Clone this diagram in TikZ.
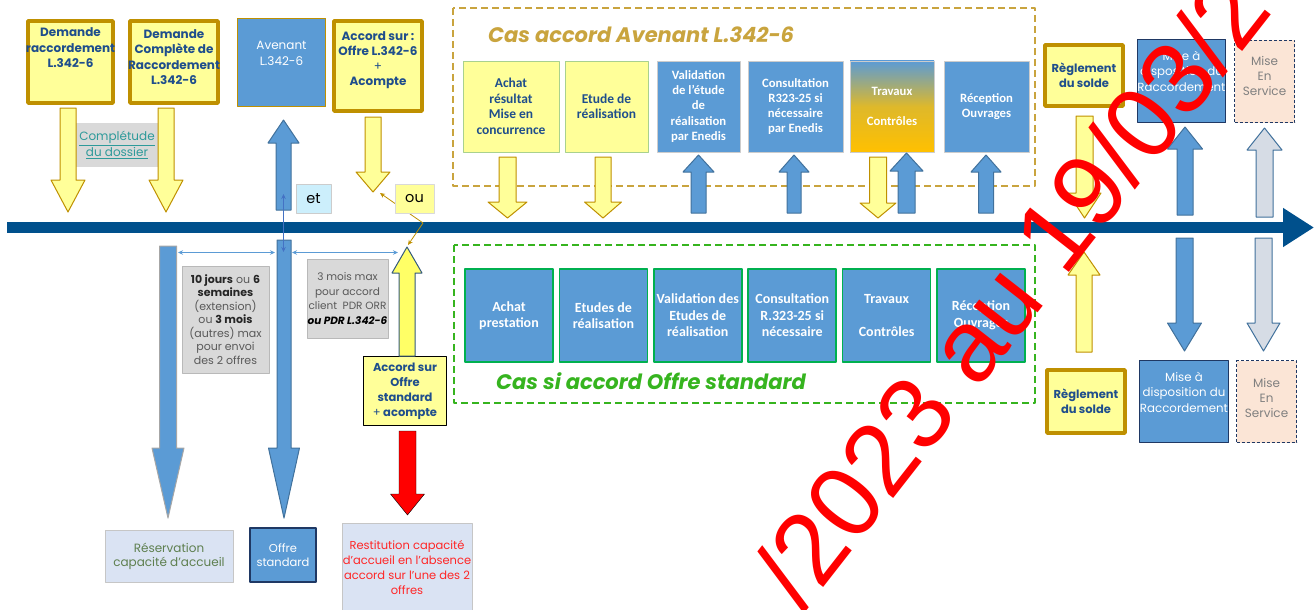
\documentclass[tikz,border=0pt]{standalone}
\usepackage{fontspec}
\setmainfont{Poppins}
\newfontfamily\carl{Carlito}
\newfontfamily\tampon{Liberation Sans}
\usetikzlibrary{arrows.meta}

\definecolor{ligne}{HTML}{00508C}
\definecolor{or}{HTML}{BF9000}
\definecolor{jaune}{HTML}{FFFF99}
\definecolor{jauneb}{HTML}{FFFF66}
\definecolor{bleu}{HTML}{5B9BD5}
\definecolor{bleuc}{HTML}{41719C}
\definecolor{bleuv}{HTML}{4472C4}
\definecolor{marine}{HTML}{1F3864}
\definecolor{txtbleu}{HTML}{1F4E8C}
\definecolor{gris}{HTML}{D9D9D9}
\definecolor{grisbleu}{HTML}{DAE3F3}
\definecolor{peche}{HTML}{FBE5D6}
\definecolor{ardoise}{HTML}{D6DCE5}
\definecolor{vert}{HTML}{00B050}
\definecolor{vertc}{HTML}{A9D18E}
\definecolor{vertpt}{HTML}{36B41F}
\definecolor{orpt}{HTML}{C9A43E}
\definecolor{orjaune}{HTML}{FFC000}
\definecolor{sarcelle}{HTML}{2E9A9A}
\definecolor{olive}{HTML}{5E7F4F}
\definecolor{grtxt}{HTML}{595959}

% fleches pleines : style, x, y depart, y pointe, demi-fut, demi-tete, longueur tete
\newcommand\flhaut[7]{\draw[#1] (#2-#5,#3) -- (#2-#5,#4+#7) -- (#2-#6,#4+#7) -- (#2,#4)
  -- (#2+#6,#4+#7) -- (#2+#5,#4+#7) -- (#2+#5,#3) -- cycle;}
\newcommand\flbas[7]{\draw[#1] (#2-#5,#3) -- (#2-#5,#4-#7) -- (#2-#6,#4-#7) -- (#2,#4)
  -- (#2+#6,#4-#7) -- (#2+#5,#4-#7) -- (#2+#5,#3) -- cycle;}
\newcommand\gras[1]{\textbf{\color{black!85}#1}}

\tikzset{
  dim/.style 2 args={minimum width=#1, minimum height=#2, inner sep=0pt},
  jboite/.style={draw=or, line width=3.5pt, fill=jaune},
  bboite/.style={draw=marine, line width=1.6pt, fill=bleu},
  gboite/.style={draw=gray!55, line width=0.6pt, fill=gris},
  cboite/.style={draw=gray!45, line width=0.6pt, fill=grisbleu},
  sboite/.style={draw=marine, line width=1.4pt, dash pattern=on 3pt off 2pt, fill=peche},
  etape/.style={line width=0.8pt, minimum height=91pt, inner sep=0pt, align=center},
  etos/.style={etape, minimum width=88pt, minimum height=93pt, fill=bleu, draw=vert, line width=1.5pt,
    text=white, font=\carl\bfseries\fontsize{14}{16.5}\selectfont},
  ptj/.style={text=txtbleu, font=\carl\bfseries\fontsize{13.5}{15.5}\selectfont},
  ptb/.style={text=white, font=\carl\bfseries\fontsize{12.7}{15.2}\selectfont},
  tgras/.style={text=txtbleu, font=\bfseries\fontsize{12}{15.5}\selectfont, align=center},
  tblanc/.style={text=white, font=\fontsize{11.8}{15.5}\selectfont, align=center},
  titre/.style={font=\bfseries\itshape\fontsize{21}{24}\selectfont, inner sep=0pt},
  fj/.style={fill=jaune, draw=or, line width=1pt},
  fb/.style={fill=bleu, draw=bleuc, line width=1pt},
  fg/.style={fill=bleu, draw=gray!70, line width=1pt},
  fa/.style={fill=ardoise, draw=bleuc, line width=1pt},
  fjb/.style={fill=jauneb, draw=bleuc!80!black, line width=1pt},
  fr/.style={fill=red},
  fin/.style={line width=0.8pt},
  tamponst/.style={text=red, font=\tampon\fontsize{102}{102}\selectfont, rotate=52,
    anchor=base west, inner sep=0pt}
}

\begin{document}
\begin{tikzpicture}[x=1pt, y=-1pt, line join=round, >={Stealth[length=5pt,width=4.5pt]}]
	\useasboundingbox (0,0) rectangle (1314,610);
	% cadres des deux cas
	\draw[orpt, line width=2.6pt, dash pattern=on 7pt off 4pt] (453,8) rectangle (1035,186);
	\draw[vertpt, line width=2.6pt, dash pattern=on 7pt off 4pt] (454,245) rectangle (1035,403);
	\node[titre, text=orpt, anchor=base west] (tav) at (488,43) {Cas accord Avenant L.342-6};
	\node[titre, text=vertpt, anchor=base west] (tos) at (496,389) {Cas si accord Offre standard};
	% ligne de temps
	\coordinate (t0) at (7,227.5);
	\coordinate (t1) at (1314,227.5);
	\draw[ligne, line width=11pt, -{Triangle[length=31pt,width=37pt]}] (t0) -- (t1);
	% demandes et offres
	\node[jboite, dim={85pt}{82pt}] (dem1) at (70.5,62) {};
	\node[tgras] (tdem1) at (70.5,48) {Demande\\raccordement\\L.342-6};
	\node[jboite, dim={88pt}{82pt}] (dem2) at (174,62) {};
	\node[tgras] (tdem2) at (174,57) {Demande\\Complète de\\Raccordement\\L.342-6};
	\node[fill=bleu, draw=or, line width=1.2pt, dim={88pt}{88pt}] (aven) at (281.5,62.5) {};
	\node[tblanc, font=\fontsize{12}{16}\selectfont] (taven) at (281.5,53) {Avenant\\L.342-6};
	\node[jboite, dim={88pt}{90pt}] (acc1) at (378,66) {};
	\node[tgras, font=\bfseries\fontsize{12}{15}\selectfont] (tacc1) at (378,60.5) {Accord sur :\\Offre L.342-6\\{\mdseries +}\\Acompte};
	\node[fill=gris, dim={82pt}{44pt}, align=center, text=sarcelle, font=\fontsize{12}{15.5}\selectfont] (compl) at (117,145)
		{\underline{Complétude}\\\underline{du dossier}};
	% etapes du cas avenant
	\node[etape, ptj, fill=jaune, draw=vertc, minimum width=96pt] (p1) at (511,106.5) {Achat\\résultat\\Mise en\\concurrence};
	\node[etape, ptj, fill=jaune, draw=vertc, minimum width=83pt] (p2) at (606.5,106.5) {Etude de\\réalisation};
	\node[etape, ptb, fill=bleu, draw=gray!40, minimum width=83pt] (p3) at (698.5,106.5) {Validation\\de l’étude\\de\\réalisation\\par Enedis};
	\node[etape, ptb, fill=bleu, draw=gray!40, minimum width=95pt] (p4) at (795.5,106.5) {Consultation\\R323-25 si\\nécessaire\\par Enedis};
	\node[etape, ptb, top color=bleu, bottom color=orjaune, middle color=orjaune!80!bleu, draw=gray!40, minimum width=84pt] (p5) at (892,106.5) {Travaux\\[15.5pt]Contrôles};
	\node[etape, ptb, fill=bleu, draw=gray!40, minimum width=85pt] (p6) at (986.5,106.5) {Réception\\Ouvrages};
	% etapes du cas offre standard
	\foreach \t [count=\i] in {{Achat\\prestation},{Etudes de\\réalisation},{Validation des\\Etudes de\\réalisation},
		{Consultation\\R.323-25 si\\nécessaire},{Travaux\\[16.5pt]Contrôles},{Réception\\Ouvrages}}
		\node[etos] (q\i) at ({509+94.4*(\i-1)},315.5) {\t};
	% fin du raccordement
	\node[jboite, dim={78pt}{61pt}, tgras, font=\bfseries\fontsize{11.5}{15}\selectfont] (reg1) at (1084,75.5) {Règlement\\du solde};
	\node[bboite, dim={88pt}{83pt}] (mad1) at (1181.5,81) {};
	\node[tblanc] (tmad1) at (1181.5,71) {Mise à\\disposition du\\Raccordement};
	\node[sboite, dim={60pt}{82pt}] (mes1) at (1264.5,81.5) {};
	\node[text=gray, align=center, font=\fontsize{12}{15}\selectfont] (tmes1) at (1264.5,76) {Mise\\En\\Service};
	\node[jboite, dim={78pt}{63pt}, tgras, font=\bfseries\fontsize{11.5}{15}\selectfont] (reg2) at (1086,401.5) {Règlement\\du solde};
	\node[bboite, dim={89pt}{82pt}] (mad2) at (1184,401.5) {};
	\node[tblanc] (tmad2) at (1184,392) {Mise à\\disposition du\\Raccordement};
	\node[sboite, dim={60pt}{82pt}] (mes2) at (1266.5,401.5) {};
	\node[text=gray, align=center, font=\fontsize{12}{15}\selectfont] (tmes2) at (1266.5,397.5) {Mise\\En\\Service};
	% delais
	\node[gboite, dim={87pt}{107pt}, align=center, text=grtxt, font=\fontsize{11}{13.5}\selectfont] (delai1) at (225.5,319.5)
		{\gras{10 jours} ou \gras{6}\\\gras{semaines}\\(extension)\\ou \gras{3 mois}\\(autres) max\\pour envoi\\des 2 offres};
	\node[gboite, dim={81pt}{79pt}, align=center, text=grtxt, font=\fontsize{10.5}{14.5}\selectfont] (delai2) at (347.5,298.5)
		{3 mois max\\pour accord\\client\ \ PDR ORR\\{\bfseries\itshape\color{black} ou PDR L.342-6}};
	\node[fill=jaune, draw=black, line width=1.5pt, dim={83pt}{69pt}, tgras, font=\bfseries\fontsize{11.5}{15}\selectfont] (accst) at (405,391)
		{Accord sur\\Offre\\standard\\{\mdseries +} acompte};
	% issues
	\node[cboite, dim={128pt}{52pt}, align=center, text=olive, font=\fontsize{12}{14}\selectfont] (resa) at (169,556) {Réservation\\capacité d’accueil};
	\node[bboite, dim={66pt}{54pt}, tblanc, font=\fontsize{11.5}{14}\selectfont] (offst) at (283,555) {Offre\\standard};
	\node[cboite, dim={130pt}{92pt}] (resti) at (407,569) {};
	\node[text=red!85, align=center, font=\fontsize{11.5}{15}\selectfont] (tresti) at (407,567.5)
		{Restitution capacité\\d’accueil en l’absence\\accord sur l’une des 2\\offres};
	% fleches du haut
	\flbas{fj}{68}{108}{212}{8}{17}{32}
	\flbas{fj}{166}{108}{212}{8}{17}{32}
	\flhaut{fb}{283.5}{210}{120}{7.5}{15.5}{23}
	\flbas{fj}{373}{117}{192}{8}{17}{20}
	\flbas{fj}{507.5}{157}{218}{8.5}{19.5}{16}
	\flbas{fj}{603}{157}{218}{8}{18.5}{16}
	\flhaut{fb}{698.5}{213}{155}{7.5}{15.5}{17}
	\flhaut{fb}{794}{213}{155}{7}{15}{17}
	\flbas{fj}{878}{157}{218}{8.5}{18}{15}
	\flhaut{fb}{906.5}{213}{153}{8.5}{16.5}{18}
	\flhaut{fb}{986}{213}{155}{7.5}{15}{17}
	\flbas{fj}{1084.5}{116}{218}{8.5}{16.5}{25}
	\flhaut{fb}{1185}{215}{127}{8}{17.5}{22}
	\flhaut{fa}{1264.5}{217}{128}{8.5}{17.5}{22}
	% fleches du bas
	\flbas{fg}{168}{246}{518}{8.5}{16}{70}
	\flbas{fb}{284}{240}{518}{7}{15.5}{70}
	\flhaut{fjb}{407}{356}{247}{8}{15}{26}
	\flbas{fr}{407.5}{431}{515}{8.5}{17}{21}
	\flhaut{fj}{1084}{352}{252}{8}{16}{23}
	\flbas{fb}{1184.5}{238}{351}{8.5}{17}{28}
	\flbas{fa}{1263.5}{238}{351}{8.5}{16.5}{28}
	% liaisons fines
	\coordinate (va) at (283.5,194);
	\coordinate (vb) at (283.5,252);
	\draw[fin, bleuv, <->] (va) -- (vb);
	\coordinate (ha1) at (178,252.5);
	\coordinate (ha2) at (275,252.5);
	\coordinate (hb1) at (292,252.5);
	\coordinate (hb2) at (398,252.5);
	\draw[fin, bleu, <->] (ha1) -- (ha2);
	\draw[fin, bleu, <->] (hb1) -- (hb2);
	\coordinate (o1) at (380,193);
	\coordinate (o2) at (423,223);
	\coordinate (o3) at (408,245);
	\draw[fin, or, <->] (o1) -- (o2) -- (o3);
	\node[fill=cyan!20, draw=gray!40, dim={35pt}{29pt}, font=\fontsize{14.5}{16}\selectfont] (et) at (313.5,198.5) {et};
	\node[fill=jaune, draw=gray!30, dim={39pt}{29pt}, font=\fontsize{14.5}{16}\selectfont] (ou) at (414.5,198.5) {ou};
	% tampon
	\node[tamponst] (wm) at (803,614) {/2023 au 19/03/20};
\end{tikzpicture}
\end{document}
